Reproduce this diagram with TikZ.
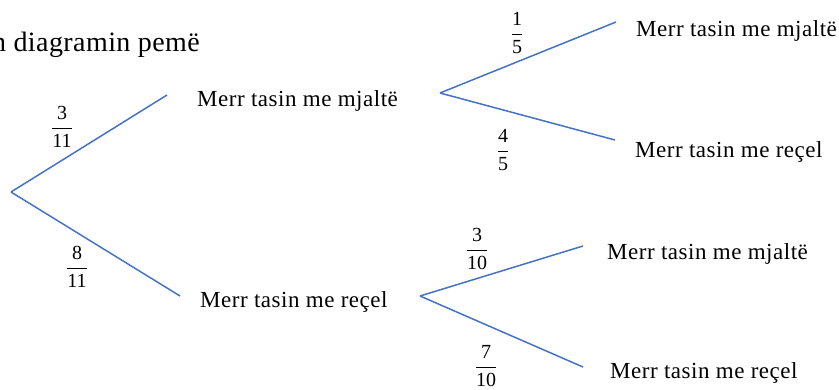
\documentclass[tikz,border=0pt]{standalone}
\usepackage{amsmath}
\usepackage{fontspec}
\setmainfont{Liberation Serif}
\usepackage{xcolor}
\definecolor{branchblue}{HTML}{4472C4}
\newcommand{\prob}[2]{$\dfrac{\text{#1}}{\text{#2}}$}

\begin{document}
\begin{tikzpicture}[x=1pt, y=-1pt, >=stealth,
    branch/.style={draw=branchblue, line width=1.5pt},
    outcome/.style={anchor=base west, inner sep=0pt,
      font=\fontsize{23}{27}\selectfont\addfontfeature{LetterSpace=2.3}},
    prob/.style={inner sep=0pt, font=\fontsize{20}{24}\selectfont}]
    \clip (0,0) rectangle (839,390);
    \useasboundingbox (0,0) rectangle (839,390);

    \node[anchor=base east, inner sep=0pt,
      font=\fontsize{28}{32}\selectfont\addfontfeature{LetterSpace=1.5}] (title) at (200,52) {n diagramin pemë};

    \coordinate (root) at (11,192);
    \coordinate (m) at (167,95);
    \coordinate (r) at (180,296);
    \coordinate (ms) at (440,93);
    \coordinate (mm) at (616,22);
    \coordinate (mr) at (615,140);
    \coordinate (rs) at (420,296);
    \coordinate (rm) at (583,246);
    \coordinate (rr) at (583,367);

    \node[outcome] (nm) at (197,107) {Merr tasin me mjaltë};
    \node[outcome] (nr) at (200,308) {Merr tasin me reçel};
    \node[outcome] (nmm) at (636,37) {Merr tasin me mjaltë};
    \node[outcome] (nmr) at (635,158) {Merr tasin me reçel};
    \node[outcome] (nrm) at (607,260) {Merr tasin me mjaltë};
    \node[outcome] (nrr) at (610,378) {Merr tasin me reçel};

    \draw[branch] (root) -- (m);
    \draw[branch] (root) -- (r);
    \draw[branch] (ms) -- (mm);
    \draw[branch] (ms) -- (mr);
    \draw[branch] (rs) -- (rm);
    \draw[branch] (rs) -- (rr);

    \node[prob] (p1) at (62,127) {\prob{3}{11}};
    \node[prob] (p2) at (77,267) {\prob{8}{11}};
    \node[prob] (p3) at (517,33) {\prob{1}{5}};
    \node[prob] (p4) at (503,150) {\prob{4}{5}};
    \node[prob] (p5) at (477,249) {\prob{3}{10}};
    \node[prob] (p6) at (486,366) {\prob{7}{10}};
\end{tikzpicture}
\end{document}
